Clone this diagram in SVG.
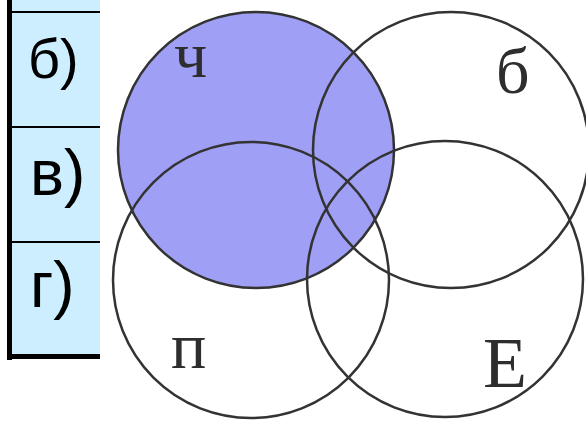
<svg xmlns="http://www.w3.org/2000/svg" width="586" height="421" viewBox="0 0 586 421">
  <style>
    .set { fill: none; stroke: #333333; stroke-width: 2.5; }
    .lbl { font-family: "Liberation Serif", "DejaVu Serif", serif; fill: #2e2e2e; }
    .cell { font-family: "Liberation Sans", Arial, sans-serif; fill: #000000; }
    .rule { stroke: #000000; stroke-width: 2; }
  </style>
  <rect x="0" y="0" width="586" height="421" fill="#ffffff"/>
  <g id="table">
    <rect x="9" y="0" width="91" height="356" fill="#cdeeff"/>
    <line class="rule" x1="10" y1="12" x2="100" y2="12"/>
    <line class="rule" x1="10" y1="127" x2="100" y2="127"/>
    <line class="rule" x1="10" y1="242" x2="100" y2="242"/>
    <line x1="9.5" y1="0" x2="9.5" y2="360" stroke="#000000" stroke-width="5"/>
    <line x1="7" y1="356.5" x2="100" y2="356.5" stroke="#000000" stroke-width="5"/>
    <text class="cell" x="28" y="78" font-size="56">б)</text>
    <text class="cell" x="30" y="195" font-size="64">в)</text>
    <text class="cell" x="30" y="307" font-size="64">г)</text>
  </g>
  <g id="set-ch">
    <circle cx="256" cy="150" r="138" fill="#9f9ff6"/>
    <circle class="set" cx="256" cy="150" r="138"/>
    <text class="lbl" x="174" y="77" font-size="66">ч</text>
  </g>
  <g id="set-b">
    <circle class="set" cx="451" cy="150" r="138"/>
    <text class="lbl" x="496" y="93" font-size="66">б</text>
  </g>
  <g id="set-p">
    <circle class="set" cx="251" cy="280" r="138"/>
    <text class="lbl" x="171" y="368" font-size="66">п</text>
  </g>
  <g id="set-e">
    <circle class="set" cx="445" cy="279" r="138"/>
    <text class="lbl" x="483" y="387" font-size="72">E</text>
  </g>
</svg>
